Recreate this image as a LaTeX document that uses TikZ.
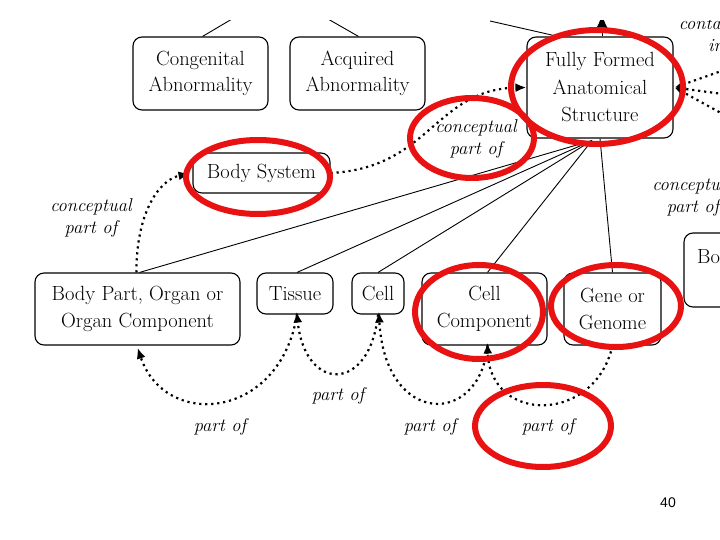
\documentclass[tikz,border=0pt]{standalone}
\usepackage{fontspec}
\newfontfamily\arialfont{Liberation Sans}
\usetikzlibrary{arrows.meta}
\definecolor{circred}{RGB}{232,18,18}
\begin{document}
\begin{tikzpicture}[x=1pt,y=-1pt,
  box/.style={draw, line width=1.1pt, rounded corners=9pt, inner sep=0pt, align=center, font=\fontsize{20.5}{26.5}\selectfont},
  lbl/.style={align=center, inner sep=0pt, font=\fontsize{18.5}{22}\selectfont\itshape},
  rel/.style={line width=0.9pt},
  dots/.style={line width=2.2pt, dash pattern=on 2.2pt off 3.8pt},
  tipa/.style={-{Latex[length=11pt,width=9pt]}},
  hl/.style={draw=circred, line width=6pt}]
\useasboundingbox (0,0) rectangle (720,540);
\begin{scope}
\clip (0,21) rectangle (720,540);
% boxes
\node[box, minimum width=135pt, minimum height=73pt] (cong) at (200.5,73.5) {Congenital\\Abnormality};
\node[box, minimum width=135pt, minimum height=73pt] (acq) at (357.5,73.5) {Acquired\\Abnormality};
\node[box, minimum width=146pt, minimum height=101pt, font=\fontsize{20.5}{27.5}\selectfont] (ffas) at (600,87.5) {Fully Formed\\Anatomical\\Structure};
\node[box, minimum width=137pt, minimum height=40pt] (bsys) at (261.5,173) {Body System};
\node[box, minimum width=205pt, minimum height=72pt] (bpart) at (137.5,309) {Body Part, Organ or\\Organ Component};
\node[box, minimum width=76pt, minimum height=41pt] (tissue) at (295,293.5) {Tissue};
\node[box, minimum width=52pt, minimum height=41pt] (cell) at (378,293.5) {Cell};
\node[box, minimum width=125pt, minimum height=72pt] (ccomp) at (484.5,309) {Cell\\Component};
\node[box, minimum width=97pt, minimum height=72pt] (gene) at (612.5,309) {Gene or\\Genome};
\node[box, minimum width=146pt, minimum height=74pt] (bspace) at (757,270) {Body Space or\\Junction};
% labels
\node[lbl] (toplbl) at (716,34) {contained\\in};
\node[lbl] (cpo1) at (476,139) {conceptual\\part of};
\node[lbl] (cpo2) at (91,218) {conceptual\\part of};
\node[lbl] (cpo3) at (693,197) {conceptual\\part of};
\node[lbl] (po1) at (220,427) {part of};
\node[lbl] (po2) at (338,396) {part of};
\node[lbl] (po3) at (430,427) {part of};
\node[lbl] (po4) at (548,427) {part of};
% lines leaving the top
\coordinate (tc) at (232,19);
\coordinate (ta) at (328,19);
\coordinate (tf) at (490,21);
\coordinate (tu) at (602,14);
\draw[rel] ([xshift=2pt]cong.north) -- (tc);
\draw[rel] ([xshift=1pt]acq.north) -- (ta);
\draw[rel] ([xshift=-42pt]ffas.north) -- (tf);
\draw[rel, -{Latex[length=14pt,width=11pt]}] ([xshift=2pt]ffas.north) -- (tu);
% is-a lines
\draw[rel] ([xshift=-8pt,yshift=-2pt]ffas.south) -- ([xshift=2pt]bpart.north);
\draw[rel] ([xshift=-8pt,yshift=-2pt]ffas.south) -- ([xshift=2pt]tissue.north);
\draw[rel] ([xshift=-8pt,yshift=-2pt]ffas.south) -- (cell.north);
\draw[rel] ([xshift=-8pt,yshift=-2pt]ffas.south) -- ([xshift=3pt]ccomp.north);
\draw[rel] (ffas.south) -- (gene.north);
% conceptual part of
\draw[dots, tipa] (bsys.east) .. controls (430,168) and (435,89) .. (ffas.west);
\draw[dots, tipa, shorten >=3pt] ([xshift=-1pt]bpart.north) .. controls (136,215) and (158,180) .. (bsys.west);
\coordinate (r1) at (730,68);
\coordinate (r2) at (730,95);
\coordinate (r3) at (730,118);
\draw[dots, tipa] (r1) -- ([xshift=1pt]ffas.east);
\draw[dots, tipa] (r2) -- ([xshift=1pt]ffas.east);
\draw[dots, tipa] (r3) -- ([xshift=1pt]ffas.east);
% part of
\draw[dots, tipa, shorten >=-3pt] ([xshift=2pt]tissue.south) .. controls (280,420) and (165,430) .. ([xshift=1pt,yshift=-5pt]bpart.south);
\draw[dots, tipa, shorten >=-3pt] (cell.south) .. controls (370,393) and (305,393) .. ([xshift=2pt]tissue.south);
\draw[dots, tipa, shorten >=-3pt] ([xshift=3pt]ccomp.south) .. controls (480,427) and (385,427) .. ([xshift=1pt]cell.south);
\draw[dots, tipa, shorten >=-3pt] (gene.south) .. controls (595,424) and (490,424) .. ([xshift=3pt]ccomp.south);
\end{scope}
% highlights
\draw[hl] (258,177) ellipse [x radius=72pt, y radius=37pt];
\draw[hl] (472,138) ellipse [x radius=62pt, y radius=40pt];
\draw[hl] (597,87) ellipse [x radius=86pt, y radius=57pt];
\draw[hl] (479,312) ellipse [x radius=64pt, y radius=47pt];
\draw[hl] (616,306) ellipse [x radius=65pt, y radius=41pt];
\draw[hl] (543,426) ellipse [x radius=68pt, y radius=41pt];
\node[font=\arialfont\fontsize{14}{16}\selectfont] (pg) at (668,503) {40};
\end{tikzpicture}
\end{document}
